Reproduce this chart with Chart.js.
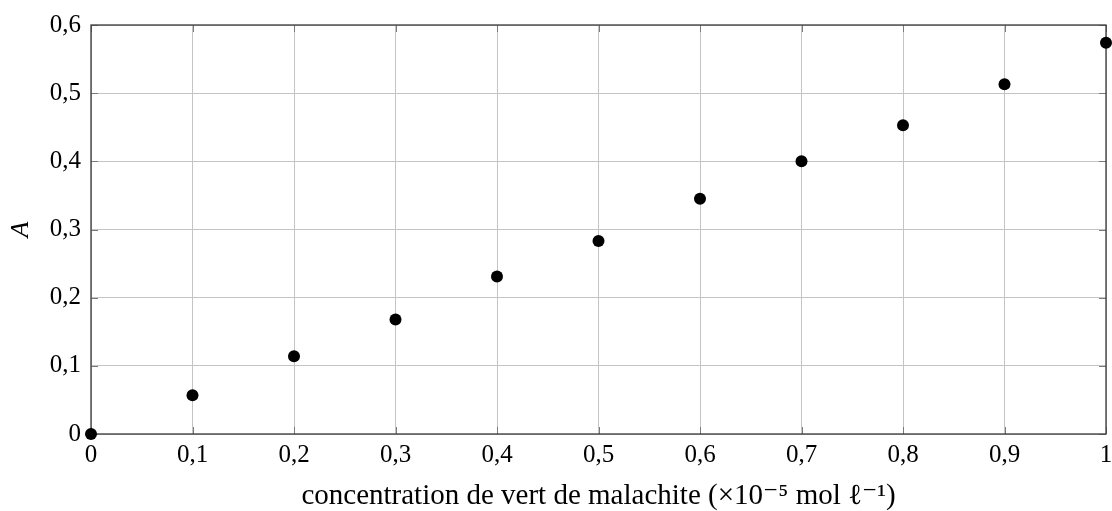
<!DOCTYPE html>
<html>
<head>
<meta charset="utf-8">
<script src="https://cdn.jsdelivr.net/npm/chart.js@4"></script>
<style>
html,body{margin:0;padding:0;background:#fff;}
#wrap{width:1112px;height:511px;}
</style>
</head>
<body>
<div id="wrap"><canvas id="c" width="1112" height="511"></canvas></div>
<script>
const concentrations = [0, 0.1, 0.2, 0.3, 0.4, 0.5, 0.6, 0.7, 0.8, 0.9, 1.0];
const absorbances = [0, 0.057, 0.114, 0.168, 0.231, 0.283, 0.345, 0.400, 0.453, 0.513, 0.574];
const xTitle = 'concentration de vert de malachite (×10⁻⁵ mol ℓ⁻¹)';
const yTitle = 'A';

const FONT = '"Liberation Serif", "DejaVu Serif", serif';
const FRAME = '#3a3a3a';
const GRID = '#c4c4c4';

function fmt(v) {
  const r = Math.round(v * 10) / 10;
  return String(r).replace('.', ',');
}

const innerTicks = {
  id: 'innerTicks',
  beforeDatasetsDraw(chart) {
    const {ctx, chartArea: a, scales: {x, y}} = chart;
    const L = 7;
    ctx.save();
    ctx.strokeStyle = '#7a7a7a';
    ctx.lineWidth = 1;
    ctx.beginPath();
    x.ticks.forEach(t => {
      const px = Math.round(x.getPixelForValue(t.value)) + 0.5;
      ctx.moveTo(px, a.bottom); ctx.lineTo(px, a.bottom - L);
      ctx.moveTo(px, a.top); ctx.lineTo(px, a.top + L);
    });
    y.ticks.forEach(t => {
      const py = Math.round(y.getPixelForValue(t.value)) + 0.5;
      ctx.moveTo(a.left, py); ctx.lineTo(a.left + L, py);
      ctx.moveTo(a.right, py); ctx.lineTo(a.right - L, py);
    });
    ctx.stroke();
    ctx.strokeStyle = FRAME;
    ctx.lineWidth = 1.3;
    ctx.strokeRect(a.left, a.top, a.right - a.left, a.bottom - a.top);
    ctx.restore();
  }
};

new Chart(document.getElementById('c'), {
  type: 'scatter',
  data: {
    datasets: [{
      data: concentrations.map((c, i) => ({x: c, y: absorbances[i]})),
      backgroundColor: '#000',
      borderColor: '#000',
      pointRadius: 6,
      pointBorderWidth: 0,
      pointHoverRadius: 6,
      clip: false
    }]
  },
  options: {
    responsive: false,
    animation: false,
    events: [],
    layout: {padding: {top: 25, right: 6, left: 0, bottom: 0}},
    plugins: {legend: {display: false}, tooltip: {enabled: false}},
    scales: {
      x: {
        type: 'linear', min: 0, max: 1,
        ticks: {stepSize: 0.1, callback: fmt, color: '#000', padding: 6,
                font: {family: FONT, size: 25}, maxRotation: 0},
        grid: {color: GRID, lineWidth: 1, drawTicks: false},
        border: {display: false},
        title: {display: true, text: xTitle, color: '#000',
                font: {family: FONT, size: 29, lineHeight: 1}, padding: {top: 0, bottom: 0}},
        afterFit(s) { s.height = 77; s.paddingLeft = 0; s.paddingRight = 0; }
      },
      y: {
        type: 'linear', min: 0, max: 0.6,
        ticks: {stepSize: 0.1, callback: fmt, color: '#000', padding: 10,
                font: {family: FONT, size: 25}},
        grid: {color: GRID, lineWidth: 1, drawTicks: false},
        border: {display: false},
        title: {display: true, text: yTitle, color: '#000',
                font: {family: FONT, size: 26, style: 'italic'}, padding: {top: 6, bottom: 0}},
        afterFit(s) { s.width = 91; s.paddingTop = 0; s.paddingBottom = 0; }
      }
    }
  },
  plugins: [innerTicks]
});
</script>
</body>
</html>
